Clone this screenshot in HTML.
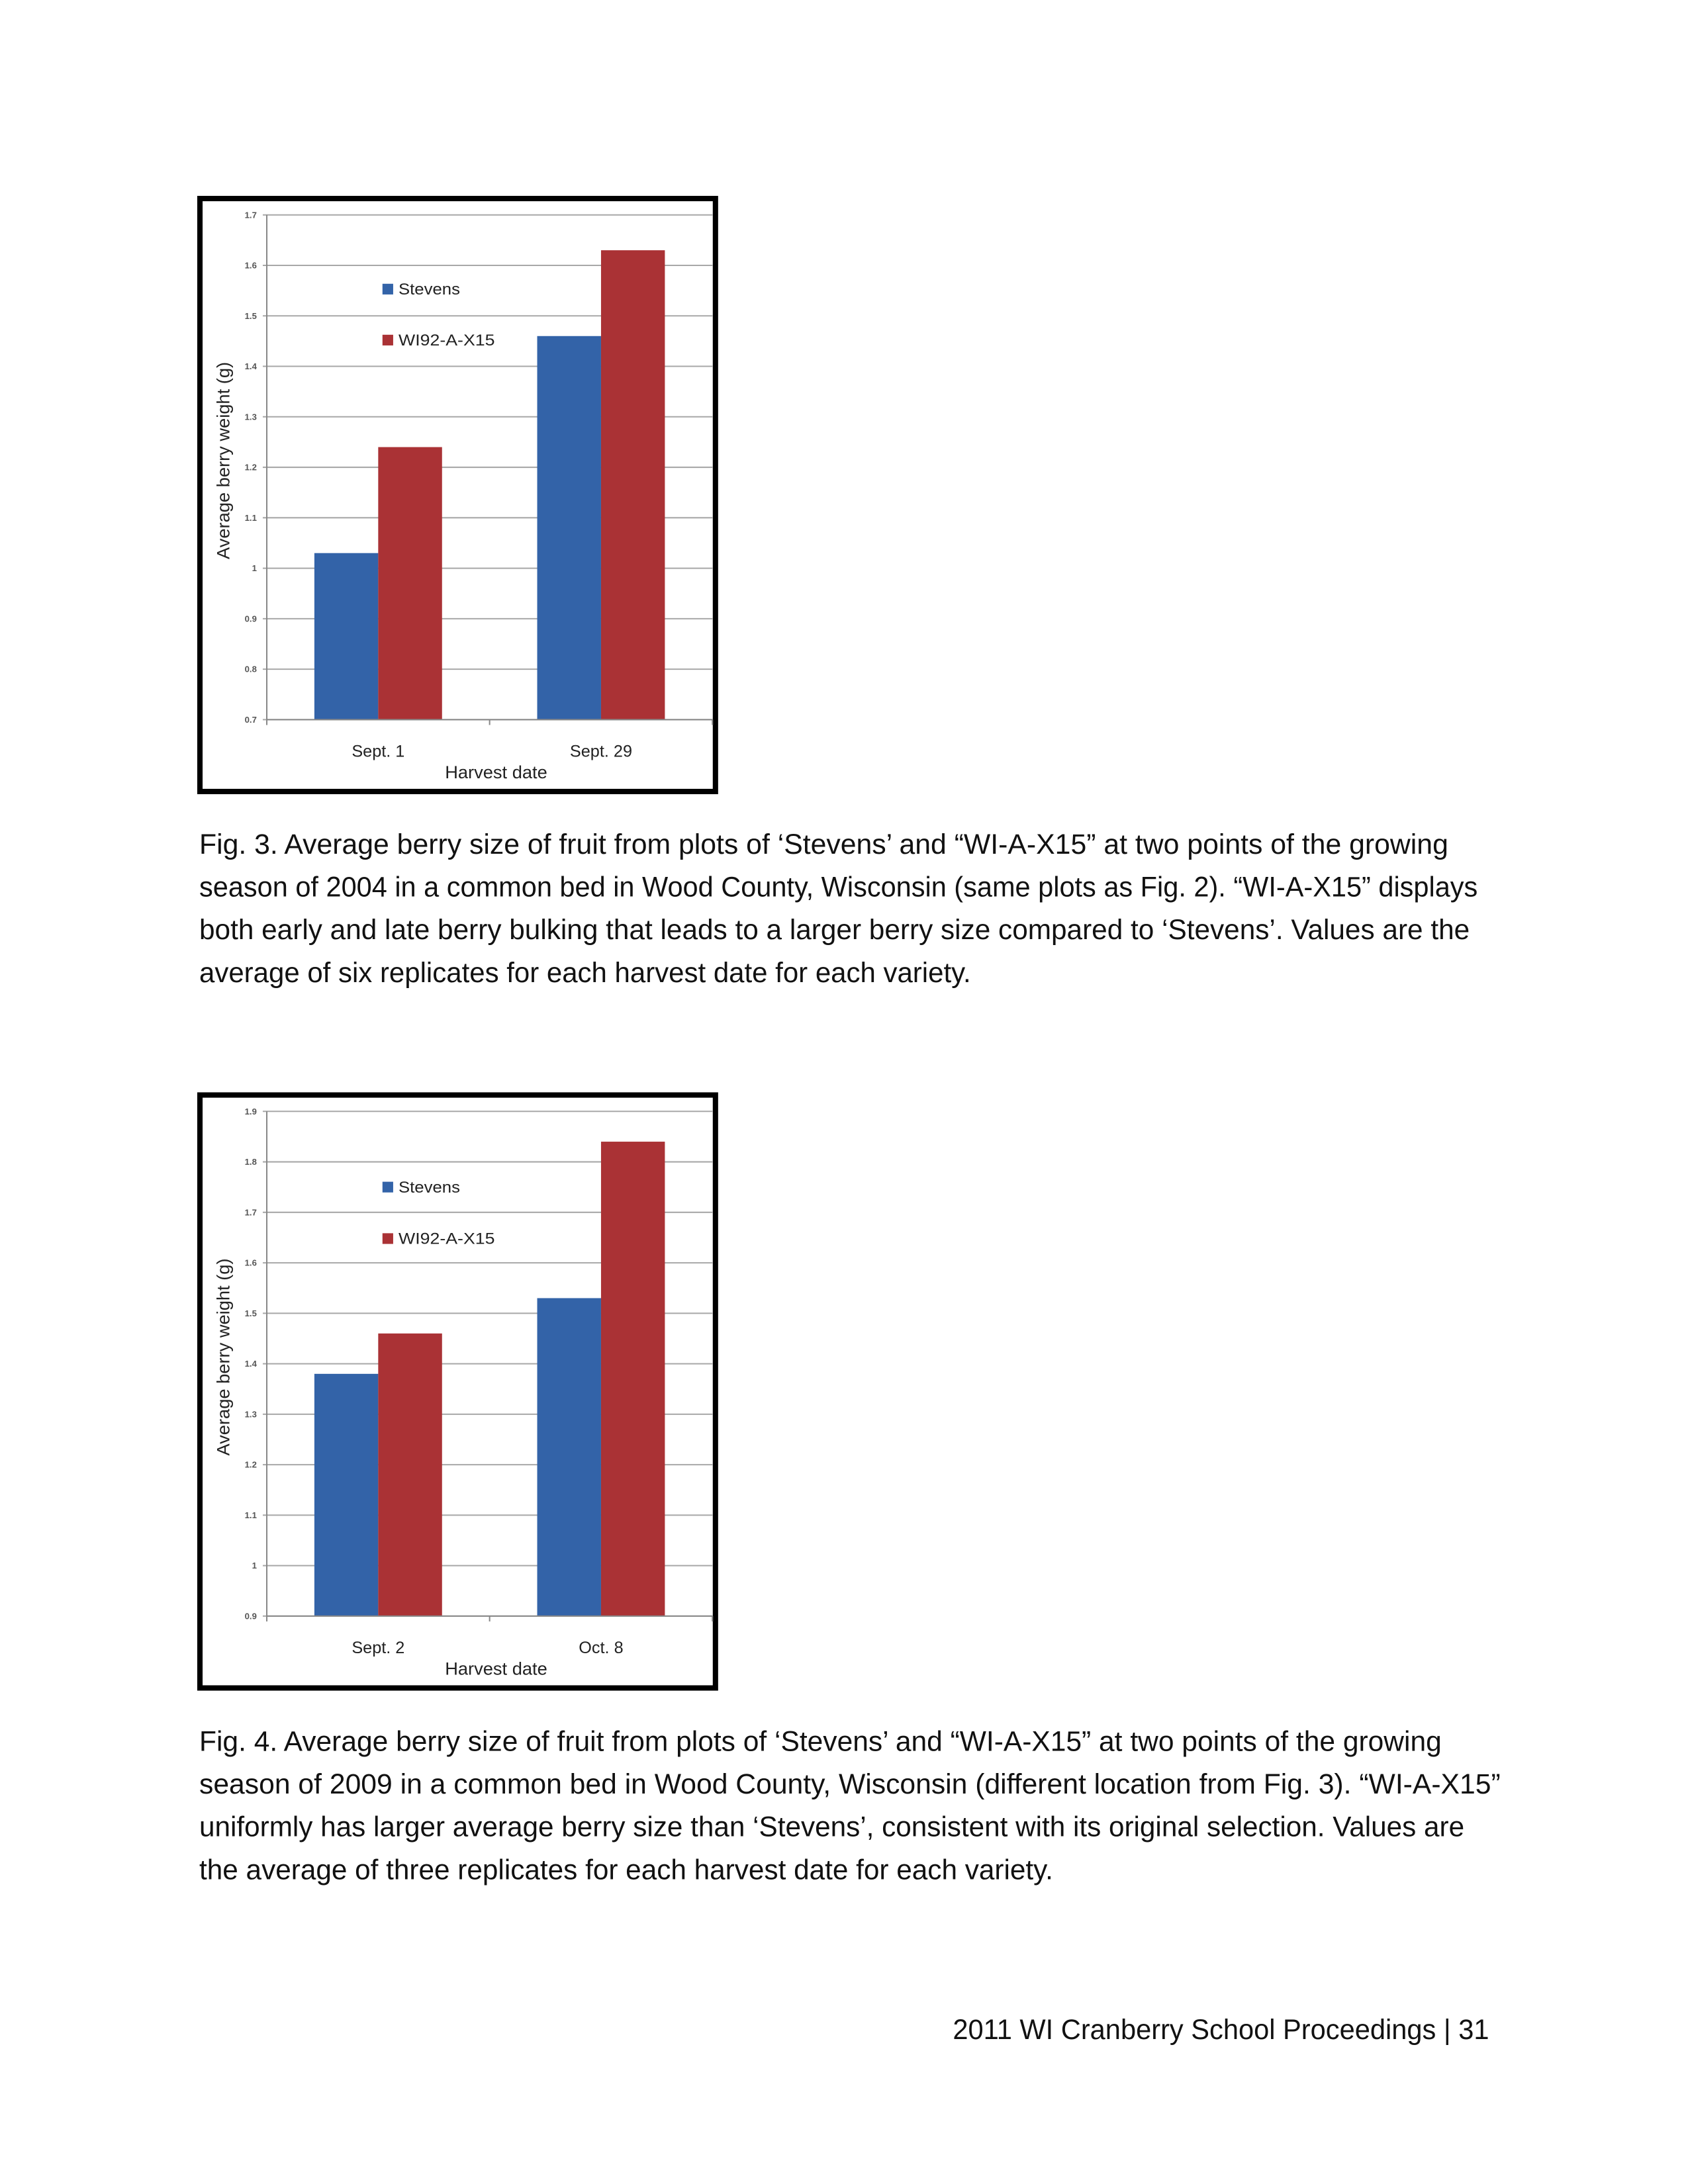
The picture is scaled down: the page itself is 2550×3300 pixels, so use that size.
<!DOCTYPE html>
<html><head><meta charset="utf-8"><style>
html,body{margin:0;padding:0;background:#fff;}
svg{display:block;}
.cap{font-family:"Liberation Sans",sans-serif;font-size:42px;fill:#111;}
.tick{font-family:"Liberation Sans",sans-serif;font-size:13px;font-weight:bold;fill:#555;}
.ax{font-family:"Liberation Sans",sans-serif;fill:#222;}
</style></head><body>
<svg id="page" width="2550" height="3300" viewBox="0 0 2550 3300" xmlns="http://www.w3.org/2000/svg">
<rect width="2550" height="3300" fill="#fff"/>
<g transform="scale(1.0101)">
<g id="c1"></g>
<g id="c2"></g>
<g>
<text class="cap" x="298" y="1277" textLength="1868" lengthAdjust="spacingAndGlyphs">Fig. 3.  Average berry size of fruit from plots of ‘Stevens’ and “WI-A-X15” at two points of the growing</text>
<text class="cap" x="298" y="1341" textLength="1912" lengthAdjust="spacingAndGlyphs">season of 2004 in a common bed in Wood County, Wisconsin (same plots as Fig. 2). “WI-A-X15” displays</text>
<text class="cap" x="298" y="1405" textLength="1900" lengthAdjust="spacingAndGlyphs">both early and late berry bulking that leads to a larger berry size compared to ‘Stevens’.  Values are the</text>
<text class="cap" x="298" y="1469" textLength="1154" lengthAdjust="spacingAndGlyphs">average of six replicates for each harvest date for each variety.</text>
</g>
<g>
<text class="cap" x="298" y="2619" textLength="1858" lengthAdjust="spacingAndGlyphs">Fig. 4. Average berry size of fruit from plots of ‘Stevens’ and “WI-A-X15” at two points of the growing</text>
<text class="cap" x="298" y="2683" textLength="1946" lengthAdjust="spacingAndGlyphs">season of 2009 in a common bed in Wood County, Wisconsin (different location from Fig. 3). “WI-A-X15”</text>
<text class="cap" x="298" y="2747" textLength="1892" lengthAdjust="spacingAndGlyphs">uniformly has larger average berry size than ‘Stevens’, consistent with its original selection.  Values are</text>
<text class="cap" x="298" y="2811" textLength="1277" lengthAdjust="spacingAndGlyphs">the average of three replicates for each harvest date for each variety.</text>
</g>
<text class="cap" x="1425" y="3050" textLength="802" lengthAdjust="spacingAndGlyphs">2011 WI Cranberry School Proceedings | 31</text>
</g>
</svg>
<script>
const seriesNames = ["Stevens", "WI92-A-X15"];
const fig3Categories = ["Sept. 1", "Sept. 29"];
const fig3Stevens = [1.03, 1.46];
const fig3WI92 = [1.24, 1.63];
const fig3Ticks = ["0.7","0.8","0.9","1","1.1","1.2","1.3","1.4","1.5","1.6","1.7"];
const fig4Categories = ["Sept. 2", "Oct. 8"];
const fig4Stevens = [1.38, 1.53];
const fig4WI92 = [1.46, 1.84];
const fig4Ticks = ["0.9","1","1.1","1.2","1.3","1.4","1.5","1.6","1.7","1.8","1.9"];
const colors = ["#3363a8", "#aa3235"];
const NS = "http://www.w3.org/2000/svg";
function mk(parent, tag, attrs, txt){
  const e = document.createElementNS(NS, tag);
  for (const k in attrs) e.setAttribute(k, attrs[k]);
  if (txt !== undefined) e.textContent = txt;
  parent.appendChild(e);
  return e;
}
function drawChart(g, top, cats, s1, s2, ticks, legendVal1, legendVal2, ytitleY){
  const L = 399, R = 1065.5;
  const yTop = top + 23.5, yBot = top + 778.5;
  const tmin = parseFloat(ticks[0]), tmax = parseFloat(ticks[ticks.length-1]);
  const y = v => yBot - (v - tmin) / (tmax - tmin) * (yBot - yTop);
  const cw = (R - L) / cats.length;
  const bw = cw * 0.2865;
  const border = mk(g, 'rect', {x: 299, y: top - 1, width: 771, height: 887, fill: '#fff', stroke: '#000', 'stroke-width': 8});
  
  
  ticks.forEach((t) => {
    const v = parseFloat(t);
    const gl = mk(g, 'line', {x1: L - 6, x2: R, y1: y(v), y2: y(v), stroke: '#a8a8a8', 'stroke-width': 2});
    
    
    const tl = mk(g, 'text', {x: 384, y: y(v) + 4.5, 'text-anchor': 'end', class: 'tick'}, t);
    
    
  });
  cats.forEach((c, i) => {
    const cx = L + cw * (i + 0.5);
    const b1 = mk(g, 'rect', {x: cx - bw, y: y(s1[i]), width: bw, height: yBot - y(s1[i]), fill: colors[0]});
    
    
    const b2 = mk(g, 'rect', {x: cx, y: y(s2[i]), width: bw, height: yBot - y(s2[i]), fill: colors[1]});
    
    
    const xl = mk(g, 'text', {x: cx, y: top + 834, 'text-anchor': 'middle', class: 'ax', 'font-size': 25}, c);
    
    
  });
  mk(g, 'line', {x1: L, x2: L, y1: yTop, y2: yBot + 8, stroke: '#888', 'stroke-width': 2});
  mk(g, 'line', {x1: L, x2: R, y1: yBot, y2: yBot, stroke: '#888', 'stroke-width': 2});
  for (let i = 1; i <= cats.length; i++) mk(g, 'line', {x1: L + cw * i, x2: L + cw * i, y1: yBot, y2: yBot + 8, stroke: '#888', 'stroke-width': 2});
  const xt = mk(g, 'text', {x: 742, y: top + 866, 'text-anchor': 'middle', class: 'ax', 'font-size': 27}, 'Harvest date');
  
  
  const yt = mk(g, 'text', {x: 0, y: 0, 'text-anchor': 'middle', class: 'ax', 'font-size': 27, transform: `translate(343,${ytitleY}) rotate(-90)`}, 'Average berry weight (g)');
  
  
  [legendVal1, legendVal2].forEach((lv, i) => {
    const ly = y(lv);
    const sq = mk(g, 'rect', {x: 572, y: ly - 8, width: 16, height: 16, fill: colors[i]});
    
    
    const lt = mk(g, 'text', {x: 596, y: ly + 8, class: 'ax', 'font-size': 24, textLength: i ? 144 : 92, lengthAdjust: 'spacingAndGlyphs'}, seriesNames[i]);
    
    
  });
}
drawChart(document.getElementById('c1'), 298, fig3Categories, fig3Stevens, fig3WI92, fig3Ticks, 1.553, 1.452, 689);
drawChart(document.getElementById('c2'), 1639, fig4Categories, fig4Stevens, fig4WI92, fig4Ticks, 1.75, 1.648, 2030);
</script>
</body></html>
